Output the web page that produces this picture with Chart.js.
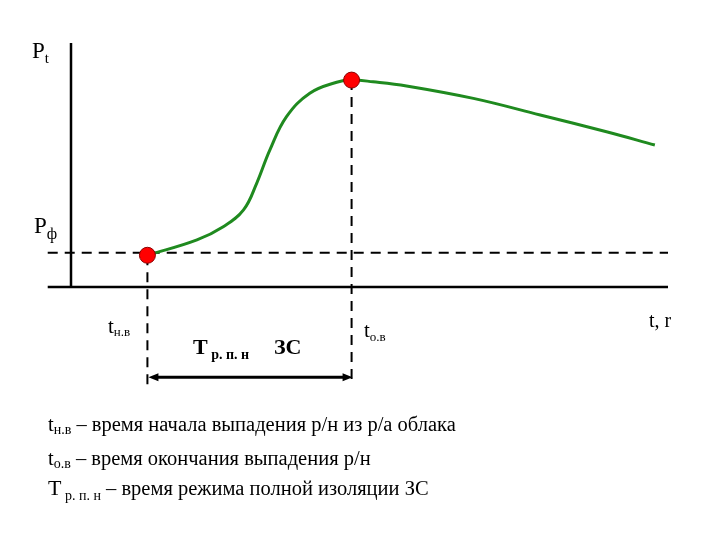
<!DOCTYPE html>
<html>
<head>
<meta charset="utf-8">
<script src="https://cdn.jsdelivr.net/npm/chart.js@4"></script>
<style>
  body { margin: 0; background: #fff; }
  canvas { display: block; }
</style>
</head>
<body>
<canvas id="c" width="720" height="540"></canvas>
<script>
// кривая P(t): время и уровень радиации (условные единицы)
const timeVals = [1.28, 2.11, 2.55, 2.89, 3.11, 3.33, 3.61, 4.00, 4.45, 4.70, 5.06, 5.62, 6.74, 7.86, 8.97, 9.78];
const pVals    = [1.30, 1.93, 2.47, 3.16, 4.25, 5.61, 6.98, 7.94, 8.39, 8.48, 8.41, 8.24, 7.73, 7.05, 6.36, 5.82];
// t н.в и t о.в
const keyT = [1.28, 4.70];
const keyP = [1.30, 8.48];
const pPhi = 1.4;        // фоновый уровень Pф
const axisFrom = -0.39;  // ось t начинается левее оси P

const serif = '"Liberation Serif", "Times New Roman", serif';

function subText(ctx, x, y, main, sub, mainSize, subSize, dy, bold) {
  const w = bold ? 'bold ' : '';
  ctx.font = w + mainSize + 'px ' + serif;
  ctx.fillText(main, x, y);
  x += ctx.measureText(main).width;
  ctx.font = w + subSize + 'px ' + serif;
  ctx.fillText(sub, x, y + dy);
  return x + ctx.measureText(sub).width;
}

const schemePlugin = {
  id: 'scheme',
  beforeDatasetsDraw(chart) {
    const ctx = chart.ctx;
    const sx = chart.scales.x, sy = chart.scales.y;
    ctx.save();
    ctx.strokeStyle = '#000';
    // оси
    ctx.lineWidth = 2.5;
    ctx.beginPath();
    ctx.moveTo(sx.getPixelForValue(0), sy.getPixelForValue(10));
    ctx.lineTo(sx.getPixelForValue(0), sy.getPixelForValue(0));
    ctx.moveTo(sx.getPixelForValue(axisFrom), sy.getPixelForValue(0));
    ctx.lineTo(sx.getPixelForValue(10), sy.getPixelForValue(0));
    ctx.stroke();
    // пунктир Pф
    ctx.lineWidth = 2;
    ctx.setLineDash([10, 7]);
    ctx.beginPath();
    ctx.moveTo(sx.getPixelForValue(axisFrom), sy.getPixelForValue(pPhi));
    ctx.lineTo(sx.getPixelForValue(10), sy.getPixelForValue(pPhi));
    // вертикали от точек
    keyT.forEach((t, i) => {
      const px = sx.getPixelForValue(t);
      ctx.moveTo(px, sy.getPixelForValue(keyP[i]));
      ctx.lineTo(px, sy.getPixelForValue(-4.05));
    });
    ctx.stroke();
    ctx.restore();
  },
  afterDraw(chart) {
    const ctx = chart.ctx;
    const sx = chart.scales.x, sy = chart.scales.y;
    ctx.save();
    ctx.fillStyle = '#000';
    ctx.strokeStyle = '#000';
    // стрелка T р.п.н
    const x1 = sx.getPixelForValue(keyT[0]) + 1, x2 = sx.getPixelForValue(keyT[1]) + 1;
    const ay = sy.getPixelForValue(-3.7);
    ctx.lineWidth = 3;
    ctx.beginPath();
    ctx.moveTo(x1 + 6, ay); ctx.lineTo(x2 - 6, ay);
    ctx.stroke();
    ctx.beginPath();
    ctx.moveTo(x1, ay); ctx.lineTo(x1 + 10, ay - 4); ctx.lineTo(x1 + 10, ay + 4); ctx.closePath();
    ctx.moveTo(x2, ay); ctx.lineTo(x2 - 10, ay - 4); ctx.lineTo(x2 - 10, ay + 4); ctx.closePath();
    ctx.fill();

    ctx.textBaseline = 'alphabetic';
    // подписи осей
    subText(ctx, 32, 58, 'P', 't', 23, 15, 5);
    subText(ctx, 34, 233, 'P', 'ф', 23, 16, 6);
    ctx.font = '20px ' + serif;
    ctx.fillText('t, r', 649, 327);
    // t н.в, T р.п.н ЗС, t о.в
    subText(ctx, 108, 333, 't', 'н.в', 21, 13, 3);
    subText(ctx, 193, 354, 'T', ' р. п. н', 22, 14, 5, true);
    ctx.font = 'bold 22px ' + serif;
    ctx.fillText('ЗС', 274, 354);
    subText(ctx, 364, 337, 't', 'о.в', 21, 13, 4);
    // пояснения
    let e = subText(ctx, 48, 431, 't', 'н.в', 20.5, 14, 3);
    ctx.font = '20.5px ' + serif;
    ctx.fillText(' – время начала выпадения р/н из р/а облака', e, 431);
    e = subText(ctx, 48, 465, 't', 'о.в', 20.5, 14, 3);
    ctx.font = '20.5px ' + serif;
    ctx.fillText(' – время окончания выпадения р/н', e, 465);
    e = subText(ctx, 48, 495, 'T', ' р. п. н', 22, 14, 5);
    ctx.font = '20.5px ' + serif;
    ctx.fillText(' – время режима полной изоляции ЗС', e, 495);
    ctx.restore();
  }
};

new Chart(document.getElementById('c'), {
  type: 'line',
  data: {
    datasets: [
      {
        data: keyT.map((t, i) => ({ x: t, y: keyP[i] })),
        showLine: false,
        pointRadius: 8,
        pointBackgroundColor: '#ff0000',
        pointBorderColor: '#8b0000',
        pointBorderWidth: 1,
        order: 0
      },
      {
        data: timeVals.map((t, i) => ({ x: t, y: pVals[i] })),
        borderColor: '#1f8a1f',
        borderWidth: 3,
        pointRadius: 0,
        tension: 0.4,
        fill: false,
        order: 1
      }
    ]
  },
  options: {
    responsive: false,
    animation: false,
    layout: { padding: { left: 71, right: 52, top: 43, bottom: 253 } },
    scales: {
      x: { type: 'linear', min: 0, max: 10, display: false },
      y: { min: 0, max: 10, display: false }
    },
    plugins: { legend: { display: false }, tooltip: { enabled: false } }
  },
  plugins: [schemePlugin]
});
</script>
</body>
</html>
